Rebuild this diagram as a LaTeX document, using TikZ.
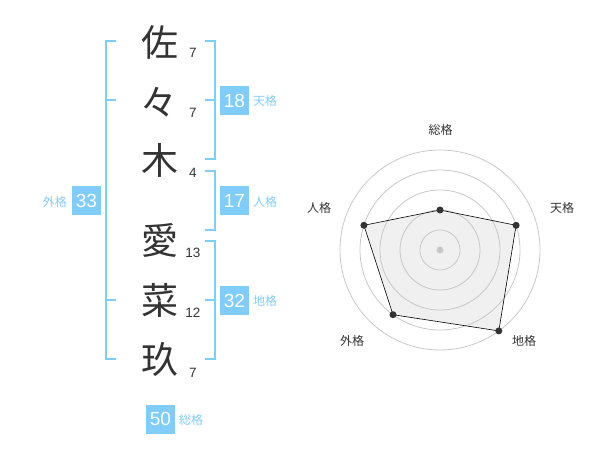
\documentclass[tikz,border=0pt]{standalone}
\usepackage{fontspec}
\setmainfont{Liberation Sans}
\newfontfamily\cjk{Noto Sans CJK JP}
\definecolor{kblue}{HTML}{80CCFA}
\definecolor{kdark}{HTML}{333333}
\definecolor{kgrid}{HTML}{C8C8C8}
\definecolor{kfill}{HTML}{F0F0F0}
\begin{document}
\begin{tikzpicture}[x=1pt,y=-1pt,
  kanji/.style={font=\cjk\fontsize{37}{37}\selectfont, text=kdark, inner sep=0pt},
  strokes/.style={font=\fontsize{13.5}{13.5}\selectfont, text=kdark, inner sep=0pt},
  numbox/.style={fill=kblue, text=white, minimum width=29pt, minimum height=29pt, inner sep=0pt, font=\fontsize{19}{19}\selectfont},
  kaku/.style={font=\cjk\fontsize{12}{12}\selectfont, text=kblue, inner sep=0pt},
  bracket/.style={draw=kblue, line width=2pt},
  rlabel/.style={font=\cjk\fontsize{12}{12}\selectfont, text=kdark, inner sep=0pt},
  ring/.style={draw=kgrid, line width=0.8pt},
  vdot/.style={circle, fill=kdark, minimum size=7pt, inner sep=0pt}
]
\useasboundingbox (0,0) rectangle (600,470);
% characters
\node[kanji] (c1) at (160,42) {佐};
\node[kanji] (c2) at (159,102) {々};
\node[kanji] (c3) at (160,160) {木};
\node[kanji] (c4) at (160,240) {愛};
\node[kanji] (c5) at (160,300) {菜};
\node[kanji] (c6) at (160,360) {玖};
% stroke counts
\node[strokes] (s1) at (193,52.5) {7};
\node[strokes] (s2) at (193,112.5) {7};
\node[strokes] (s3) at (193,172.5) {4};
\node[strokes] (s4) at (193,252.5) {13};
\node[strokes] (s5) at (193,312.5) {12};
\node[strokes] (s6) at (193,372.5) {7};
% brackets
\coordinate (lt) at (106,41); \coordinate (lb) at (106,359);
\draw[bracket] (116,41) -- (lt) -- (lb) -- (116,359);
\draw[bracket] (106,100) -- (116,100);
\draw[bracket] (106,300) -- (116,300);
\draw[bracket] (205,41) -- (215,41) -- (215,159) -- (205,159);
\draw[bracket] (205,100) -- (215,100);
\draw[bracket] (205,171) -- (215,171) -- (215,230) -- (205,230);
\draw[bracket] (205,241) -- (215,241) -- (215,359) -- (205,359);
\draw[bracket] (205,300) -- (215,300);
% boxes
\node[numbox] (b18) at (234.5,100.5) {18};
\node[kaku, anchor=west] (k18) at (253,101) {天格};
\node[numbox] (b17) at (234.5,201) {17};
\node[kaku, anchor=west] (k17) at (253,201.5) {人格};
\node[numbox] (b32) at (234.5,300.5) {32};
\node[kaku, anchor=west] (k32) at (253,301) {地格};
\node[numbox] (b33) at (86.5,200.5) {33};
\node[kaku, anchor=east] (k33) at (67,201.5) {外格};
\node[numbox] (b50) at (160.5,419) {50};
\node[kaku, anchor=west] (k50) at (179,420) {総格};
% radar
\coordinate (O) at (440,250);
\path (O) ++(0,-40) coordinate (pSo);
\path (O) ++(76.1,-24.7) coordinate (pTen);
\path (O) ++(58.8,80.9) coordinate (pChi);
\path (O) ++(-47,64.7) coordinate (pGai);
\path (O) ++(-76.1,-24.7) coordinate (pJin);
\fill[kfill] (pSo) -- (pTen) -- (pChi) -- (pGai) -- (pJin) -- cycle;
\foreach \r in {20,40,60,80,100} \draw[ring] (O) circle (\r);
\fill[kgrid] (O) circle (3.5);
\draw[draw=black, line width=0.6pt] (pSo) -- (pTen) -- (pChi) -- (pGai) -- (pJin) -- cycle;
\foreach \p in {pSo,pTen,pChi,pGai,pJin} \node[vdot] at (\p) {};
\node[rlabel] (lSo) at (440.5,130) {総格};
\node[rlabel] (lTen) at (562,208) {天格};
\node[rlabel] (lChi) at (524,341) {地格};
\node[rlabel] (lGai) at (352,341) {外格};
\node[rlabel] (lJin) at (319,208) {人格};
\end{tikzpicture}
\end{document}
